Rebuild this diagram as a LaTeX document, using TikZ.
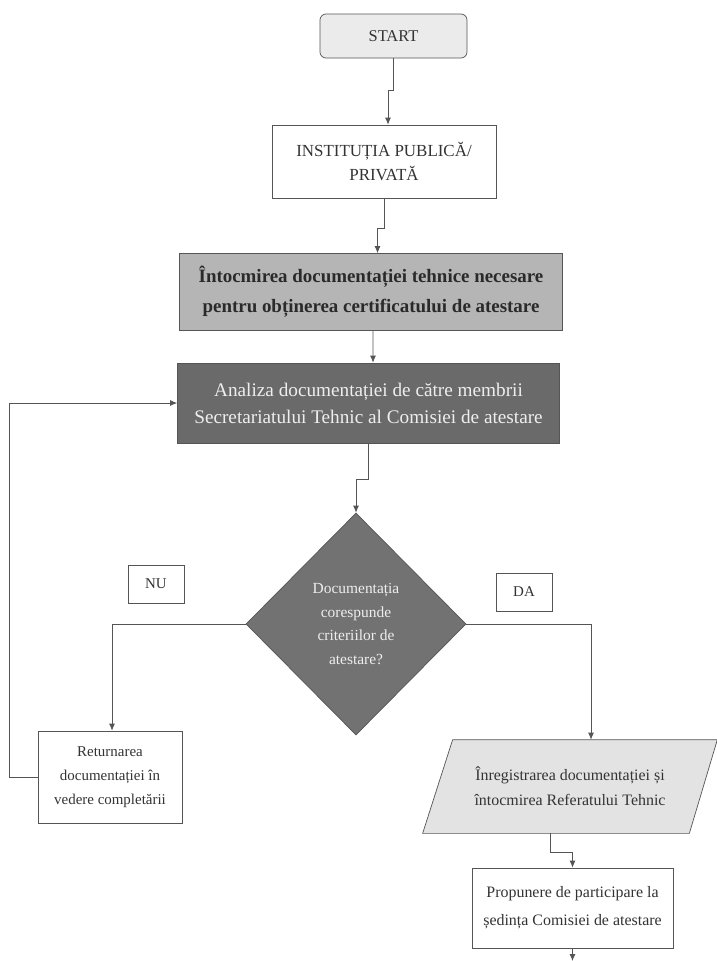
\documentclass[tikz,border=0pt]{standalone}
\usepackage{fontspec}
\setmainfont{Liberation Serif}
\usetikzlibrary{shapes.geometric,arrows.meta,backgrounds}
\definecolor{lightfill}{HTML}{EBEBEB}
\definecolor{midfill}{HTML}{B5B5B5}
\definecolor{darkfill}{HTML}{6A6A6A}
\definecolor{diafill}{HTML}{727272}
\definecolor{paralfill}{HTML}{E3E3E3}
\definecolor{edgegray}{HTML}{555555}
\definecolor{lighttext}{HTML}{EEEEEE}
\definecolor{darktext}{HTML}{2A2A2A}
\definecolor{bodytext}{HTML}{333333}
\begin{document}
\begin{tikzpicture}[x=1bp,y=-1bp,
  box/.style={draw=edgegray, line width=0.7bp, align=center, inner sep=0pt, text=bodytext, font=\fontsize{16}{25}\selectfont},
  conn/.style={draw=edgegray, line width=0.8bp},
  arr/.style={conn, -{Latex[length=7bp,width=6bp]}},
]
\useasboundingbox (0,0) rectangle (717,961);
\node[box, rounded corners=6bp, fill=lightfill, minimum width=147bp, minimum height=44bp, font=\fontsize{16.5}{24}\selectfont] (start) at (393.5,36) {START};
\node[box, fill=white, minimum width=224bp, minimum height=73bp, font=\fontsize{17}{25}\selectfont] (inst) at (384,161.5) {INSTITUȚIA PUBLICĂ/\\PRIVATĂ};
\node[box, fill=midfill, minimum width=383bp, minimum height=77bp, text=darktext, font=\fontsize{19}{30}\selectfont\bfseries] (doc) at (371,292) {Întocmirea documentației tehnice necesare\\pentru obținerea certificatului de atestare};
\node[box, fill=darkfill, minimum width=382bp, minimum height=80bp, text=lighttext, font=\fontsize{19.3}{27}\selectfont] (analiza) at (368.5,403) {Analiza documentației de către membrii\\Secretariatului Tehnic al Comisiei de atestare};
\node[box, shape=diamond, fill=diafill, minimum width=220bp, minimum height=222bp, text=lighttext, font=\fontsize{15.5}{24}\selectfont] (dia) at (356,624) {Documentația\\corespunde\\criteriilor de\\atestare?};
\node[box, fill=white, minimum width=56bp, minimum height=38bp, font=\fontsize{15}{24}\selectfont] (nu) at (156,584) {NU};
\node[box, fill=white, minimum width=56bp, minimum height=38bp, font=\fontsize{15}{24}\selectfont] (da) at (524,592) {DA};
\node[box, fill=white, minimum width=144bp, minimum height=92bp, font=\fontsize{15}{24}\selectfont] (retum) at (110,777) {Returnarea\\documentației în\\vedere completării};
\node[box, draw=none, minimum width=294bp, minimum height=93bp, font=\fontsize{16}{25}\selectfont] (paral) at (570,786.5) {Înregistrarea documentației și\\întocmirea Referatului Tehnic};
\node[box, fill=white, minimum width=201bp, minimum height=80bp, font=\fontsize{16}{28}\selectfont] (prop) at (572.5,908) {Propunere de participare la\\ședința Comisiei de atestare};
\begin{pgfonlayer}{background}
\draw[conn, line width=0.7bp, fill=paralfill] ([xshift=30bp]paral.north west) -- (paral.north east) -- ([xshift=-28bp]paral.south east) -- (paral.south west) -- cycle;
\end{pgfonlayer}
\coordinate (end) at (572.5,961);
\draw[arr] (start.south) -- ++(0,32) -| ([xshift=4bp]inst.north);
\draw[arr] (inst.south) -- ++(0,30) -| ([xshift=6.5bp]doc.north);
\draw[arr] ([xshift=2bp]doc.south) -- ([xshift=4.5bp]analiza.north);
\draw[arr] (analiza.south) -- ++(0,36) -| (dia.north);
\draw[arr] (dia.west) -| ([xshift=2bp]retum.north);
\draw[arr] (retum.west) -- ++(-28,0) |- (analiza.west);
\draw[arr] (dia.east) -| ([xshift=21bp]paral.north);
\draw[arr] ([xshift=-20bp]paral.south) -- ++(0,19) -| (prop.north);
\draw[arr] (prop.south) -- (end);
\end{tikzpicture}
\end{document}
